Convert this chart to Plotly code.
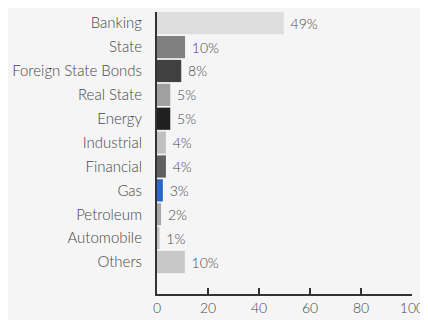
import plotly.graph_objects as go

categorias = ["Banking", "State", "Foreign State Bonds", "Real State", "Energy",
              "Industrial", "Financial", "Gas", "Petroleum", "Automobile", "Others"]
valores = [49.7, 11.0, 9.5, 5.2, 5.2, 3.5, 3.5, 2.3, 1.6, 1.0, 10.9]
etiquetas = ["49%", "10%", "8%", "5%", "5%", "4%", "4%", "3%", "2%", "1%", "10%"]
colores = ["#dedede", "#808080", "#404040", "#a0a0a0", "#202020",
           "#c0c0c0", "#606060", "#2b66c8", "#a8a8a8", "#c4c4c4", "#c8c8c8"]
ticks_x = [0, 20, 40, 60, 80, 100]

fuente = "Lato, 'Open Sans', sans-serif"
gris = "#484848"

fig = go.Figure(go.Bar(
    x=valores, y=categorias, orientation="h",
    marker=dict(color=colores, line=dict(width=0)),
    text=etiquetas, texttemplate=" %{text}",
    textposition="outside", cliponaxis=False,
    textfont=dict(family=fuente, size=14, color=gris, weight=300),
))

# la página añade 8px de margen: la figura se hace más pequeña para no desbordar
fig.update_layout(
    width=420, height=312,
    margin=dict(l=145, r=11, t=4, b=17),
    paper_bgcolor="#f5f5f5", plot_bgcolor="#f5f5f5",
    bargap=0.07, showlegend=False,
    font=dict(family=fuente, size=14, color=gris, weight=300),
)
fig.update_xaxes(
    range=[0, 100], tickvals=ticks_x, showgrid=False, zeroline=False,
    showline=True, linecolor="#333", linewidth=2,
    ticks="inside", ticklen=6, tickwidth=2, tickcolor="#333",
    ticklabeloverflow="allow",
    tickfont=dict(size=14, color=gris, weight=300),
)
fig.update_yaxes(
    categoryorder="array", categoryarray=categorias,
    range=[len(categorias) - 1 + 1.34, -0.47],
    showgrid=False, zeroline=False,
    showline=True, linecolor="#333", linewidth=2,
    ticks="", ticklabelstandoff=10,
    tickfont=dict(size=15, color=gris, weight=300),
)

fig.write_html("out.html")
